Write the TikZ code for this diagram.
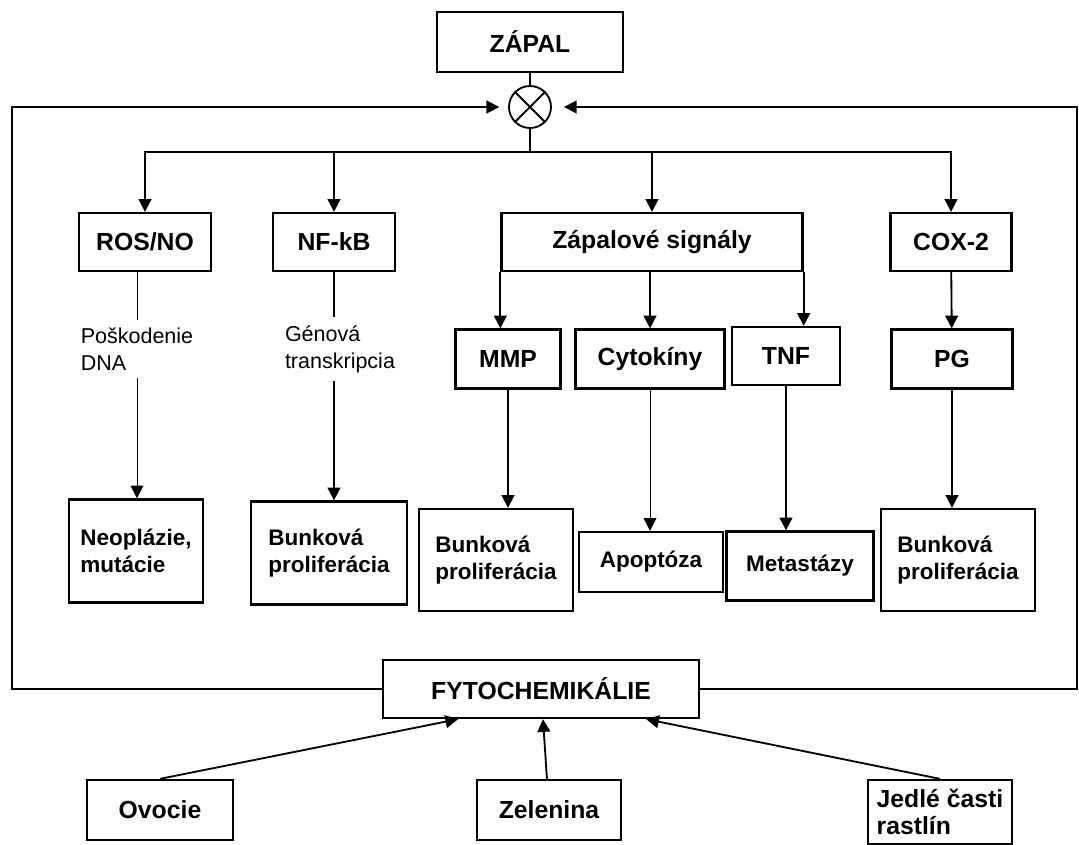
\documentclass[tikz,border=0pt]{standalone}
\usepackage{fontspec}
\setmainfont{Liberation Sans}
\usetikzlibrary{arrows.meta}
\tikzset{
  box/.style={draw, line width=1.6pt, font=\bfseries\fontsize{17.6}{21}\selectfont, align=left, inner sep=2pt},
  res/.style={box, font=\bfseries\fontsize{16}{19.5}\selectfont},
  lbl/.style={font=\fontsize{15.3}{19}\selectfont, align=left, inner sep=0.2cm},
  con/.style={line width=1.3pt},
  arr/.style={con, -{Triangle[length=0.32cm,width=0.32cm]}},
  thin arr/.style={line width=0.7pt, -{Triangle[length=0.32cm,width=0.32cm]}},
}
\begin{document}
\begin{tikzpicture}[x=0.025cm,y=-0.025cm]
  \useasboundingbox (0,0) rectangle (1079,845);
  \clip (0,0) rectangle (1079,845);
  \node[box, minimum width=4.65cm, minimum height=1.5cm] (zapal) at (530,42) {ZÁPAL};
  \node[circle, draw, con, minimum size=1.05cm] (cross) at (530,107) {};
  \draw[con] (cross.north west) -- (cross.south east) (cross.north east) -- (cross.south west);
  \coordinate (bus) at (530,152);
  \coordinate (lft) at (12,107);
  \coordinate (rgt) at (1077,107);

  \node[box, minimum width=3.3cm, minimum height=1.45cm] (ros) at (145,242) {ROS/NO};
  \node[box, minimum width=3.05cm, minimum height=1.45cm] (nfkb) at (334,242) {NF-kB};
  \node[box, minimum width=7.525cm, minimum height=1.45cm] (zs) at (652,242) {Zápalové signály};
  \node[box, minimum width=3.025cm, minimum height=1.45cm] (cox) at (951,242) {COX-2};

  \node[box, minimum width=2.625cm, minimum height=1.475cm] (mmp) at (508,359) {MMP};
  \node[box, minimum width=3.725cm, minimum height=1.475cm] (cyt) at (650,359) {Cytokíny};
  \node[box, minimum width=2.7cm, minimum height=1.45cm] (tnf) at (786,356) {TNF};
  \node[box, minimum width=3.025cm, minimum height=1.475cm] (pg) at (952,359) {PG};

  \node[lbl] (dna) at (137,349) {Poškodenie\\DNA};
  \node[lbl] (gen) at (340,349) {Génová\\transkripcia};

  \node[res, minimum width=3.35cm, minimum height=2.575cm] (neo) at (136,551) {Neoplázie,\\mutácie};
  \node[res, minimum width=3.9cm, minimum height=2.575cm] (bp1) at (329,553) {Bunková\\proliferácia};
  \node[res, minimum width=3.85cm, minimum height=2.55cm] (bp2) at (496,560) {Bunková\\proliferácia};
  \node[res, minimum width=3.6cm, minimum height=1.5cm] (apo) at (651,562) {Apoptóza};
  \node[res, minimum width=3.675cm, minimum height=1.725cm] (met) at (800,566) {Metastázy};
  \node[res, minimum width=3.85cm, minimum height=2.55cm] (bp3) at (958,560) {Bunková\\proliferácia};

  \node[box, minimum width=7.9cm, minimum height=1.45cm] (fyto) at (541,689) {FYTOCHEMIKÁLIE};
  \node[box, minimum width=3.65cm, minimum height=1.5cm] (ovo) at (160,810) {Ovocie};
  \node[box, minimum width=3.6cm, minimum height=1.5cm] (zel) at (549,810) {Zelenina};
  \node[box, font=\bfseries\fontsize{17.6}{19}\selectfont, minimum width=3.6cm, minimum height=1.6cm] (jed) at (940,812) {Jedlé časti\\rastlín};

  \draw[con] (zapal) -- (cross);
  \draw[con] (cross) -- (bus);
  \draw[arr] (bus) -| (ros);
  \draw[arr] (bus) -| (nfkb);
  \draw[arr] (bus) -| (zs);
  \draw[arr] (bus) -| (cox);
  \draw[arr, shorten >=0.22cm] (fyto.west) -| (lft) -- (cross);
  \draw[arr, shorten >=0.3cm] (fyto.east) -| (rgt) -- (cross);

  \draw[arr] (zs.south west) -- (zs.south west |- mmp.north);
  \draw[arr] (zs.south -| cyt) -- (cyt);
  \draw[arr] (zs.south east) -- (zs.south east |- tnf.north);
  \draw[arr] (cox) -- (pg);

  \draw[line width=0.7pt] (ros.south -| dna) -- (dna);
  \draw[thin arr] (dna) -- (dna |- neo.north);
  \draw[con] (nfkb) -- (nfkb |- gen.north);
  \draw[arr] (nfkb |- gen.south) -- (nfkb |- bp1.north);
  \draw[arr] (mmp) -- (mmp |- bp2.north);
  \draw[thin arr] (cyt) -- (cyt |- apo.north);
  \draw[arr] (tnf) -- (tnf |- met.north);
  \draw[arr] (pg) -- (pg |- bp3.north);

  \draw[arr] (ovo.north) -- (fyto.200);
  \draw[arr] (zel) -- (fyto);
  \draw[arr] (jed.north) -- (fyto.344);
\end{tikzpicture}
\end{document}
